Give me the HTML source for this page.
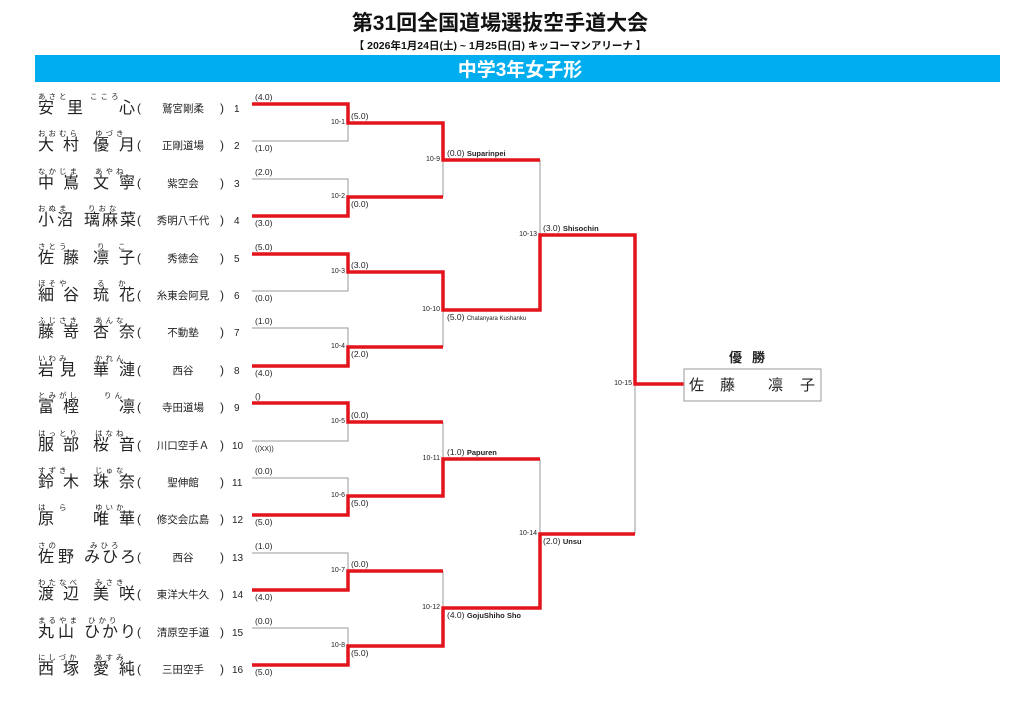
<!DOCTYPE html>
<html><head><meta charset="utf-8">
<style>
html,body{margin:0;padding:0;background:#fff;}
svg{display:block;}
text{font-family:"Liberation Sans","Noto Sans CJK JP",sans-serif;fill:#222;}
.k{font-size:16px;}
.f{font-size:7.5px;letter-spacing:3px;}
.s{font-size:10.5px;text-anchor:middle;}
.p{font-size:12px;}
.n{font-size:10px;}
.sc{font-size:8.5px;}
.id{font-size:7px;text-anchor:end;}
.r{fill:none;stroke:#e3141b;stroke-width:3.5;stroke-linejoin:miter;}
.g{fill:none;stroke:#9a9a9a;stroke-width:1;}
</style></head><body>
<svg width="1024" height="724" viewBox="0 0 1024 724" xmlns="http://www.w3.org/2000/svg">
<text x="500" y="30" text-anchor="middle" style="font-size:21px;font-weight:bold;fill:#111">第31回全国道場選抜空手道大会</text>
<text x="500" y="49" text-anchor="middle" style="font-size:10.5px;font-weight:bold;fill:#111">【 2026年1月24日(土) ~ 1月25日(日)  キッコーマンアリーナ 】</text>
<rect x="35" y="55" width="965" height="27" fill="#00aeef"/>
<text x="520" y="76" text-anchor="middle" style="font-size:19px;font-weight:bold;fill:#fff">中学3年女子形</text>

<!-- grey lines -->
<g class="g">
<polyline points="252,141 348,141 348,123"/>
<polyline points="252,179 348,179 348,197"/>
<polyline points="252,291 348,291 348,272"/>
<polyline points="252,328 348,328 348,347"/>
<polyline points="252,441 348,441 348,422"/>
<polyline points="252,478 348,478 348,496"/>
<polyline points="252,553 348,553 348,571"/>
<polyline points="252,628 348,628 348,646"/>
<line x1="443" y1="197" x2="443" y2="160"/>
<line x1="443" y1="347" x2="443" y2="310"/>
<line x1="443" y1="422" x2="443" y2="459"/>
<line x1="443" y1="571" x2="443" y2="608"/>
<line x1="540" y1="160" x2="540" y2="235"/>
<line x1="540" y1="459" x2="540" y2="534"/>
<line x1="635" y1="534" x2="635" y2="384"/>
</g>
<g class="r">
<polyline points="252,104 348,104 348,123 443,123 443,160 540,160"/>
<polyline points="252,216 348,216 348,197 443,197"/>
<polyline points="252,254 348,254 348,272 443,272 443,310 540,310 540,235 635,235 635,384 684,384"/>
<polyline points="252,366 348,366 348,347 443,347"/>
<polyline points="252,403 348,403 348,422 443,422"/>
<polyline points="252,515 348,515 348,496 443,496 443,459 540,459"/>
<polyline points="252,590 348,590 348,571 443,571"/>
<polyline points="252,665 348,665 348,646 443,646 443,608 540,608 540,534 635,534"/>
</g>

<!-- winner box -->
<text x="752" y="362" text-anchor="middle" style="font-size:13px;font-weight:bold;letter-spacing:10px">優勝</text>
<rect x="684" y="369" width="137" height="32" fill="none" stroke="#999" stroke-width="1"/>
<text x="689" y="390" style="font-size:15px">佐</text>
<text x="720" y="390" style="font-size:15px">藤</text>
<text x="768" y="390" style="font-size:15px">凛</text>
<text x="800" y="390" style="font-size:15px">子</text>

<!-- match ids -->
<g class="id">
<text x="345" y="124">10-1</text><text x="345" y="198">10-2</text><text x="345" y="273">10-3</text><text x="345" y="348">10-4</text>
<text x="345" y="423">10-5</text><text x="345" y="497">10-6</text><text x="345" y="572">10-7</text><text x="345" y="647">10-8</text>
<text x="440" y="161">10-9</text><text x="440" y="311">10-10</text><text x="440" y="460">10-11</text><text x="440" y="609">10-12</text>
<text x="537" y="236">10-13</text><text x="537" y="535">10-14</text><text x="632" y="385">10-15</text>
</g>

<!-- scores -->
<g class="sc">
<text x="255" y="100">(4.0)</text><text x="255" y="151">(1.0)</text>
<text x="255" y="175">(2.0)</text><text x="255" y="226">(3.0)</text>
<text x="255" y="250">(5.0)</text><text x="255" y="301">(0.0)</text>
<text x="255" y="324">(1.0)</text><text x="255" y="376">(4.0)</text>
<text x="255" y="399">()</text><text x="255" y="451" style="font-size:7px">((XX))</text>
<text x="255" y="474">(0.0)</text><text x="255" y="525">(5.0)</text>
<text x="255" y="549">(1.0)</text><text x="255" y="600">(4.0)</text>
<text x="255" y="624">(0.0)</text><text x="255" y="675">(5.0)</text>
<text x="351" y="119">(5.0)</text><text x="351" y="207">(0.0)</text>
<text x="351" y="268">(3.0)</text><text x="351" y="357">(2.0)</text>
<text x="351" y="418">(0.0)</text><text x="351" y="506">(5.0)</text>
<text x="351" y="567">(0.0)</text><text x="351" y="656">(5.0)</text>
<text x="447" y="156">(0.0) <tspan style="font-weight:bold;font-size:7.5px">Suparinpei</tspan></text>
<text x="447" y="320">(5.0) <tspan style="font-size:6px">Chatanyara Kushanku</tspan></text>
<text x="447" y="455">(1.0) <tspan style="font-weight:bold;font-size:7.5px">Papuren</tspan></text>
<text x="447" y="618">(4.0) <tspan style="font-weight:bold;font-size:7.5px">GojuShiho Sho</tspan></text>
<text x="543" y="231">(3.0) <tspan style="font-weight:bold;font-size:7.5px">Shisochin</tspan></text>
<text x="543" y="544">(2.0) <tspan style="font-weight:bold;font-size:7.5px">Unsu</tspan></text>
</g>

<!-- players -->
<g>
<!-- 1 -->
<text class="f" x="38" y="99">あさと</text><text class="f" x="90" y="99">こころ</text>
<text class="k" x="38" y="113">安</text><text class="k" x="67" y="113">里</text><text class="k" x="119" y="113">心</text>
<text class="p" x="137" y="112">(</text><text class="s" x="183" y="112">鷲宮剛柔</text><text class="p" x="220" y="112">)</text><text class="n" x="234" y="112">1</text>
<!-- 2 -->
<text class="f" x="38" y="136">おおむら</text><text class="f" x="95" y="136">ゆづき</text>
<text class="k" x="38" y="150">大</text><text class="k" x="63" y="150">村</text><text class="k" x="93" y="150">優</text><text class="k" x="119" y="150">月</text>
<text class="p" x="137" y="149">(</text><text class="s" x="183" y="149">正剛道場</text><text class="p" x="220" y="149">)</text><text class="n" x="234" y="149">2</text>
<!-- 3 -->
<text class="f" x="38" y="174">なかじま</text><text class="f" x="95" y="174">あやね</text>
<text class="k" x="38" y="188">中</text><text class="k" x="63" y="188">嶌</text><text class="k" x="93" y="188">文</text><text class="k" x="119" y="188">寧</text>
<text class="p" x="137" y="187">(</text><text class="s" x="183" y="187">紫空会</text><text class="p" x="220" y="187">)</text><text class="n" x="234" y="187">3</text>
<!-- 4 -->
<text class="f" x="38" y="211">おぬま</text><text class="f" x="88" y="211">りおな</text>
<text class="k" x="38" y="225">小</text><text class="k" x="57" y="225">沼</text><text class="k" x="84" y="225">璃</text><text class="k" x="102" y="225">麻</text><text class="k" x="120" y="225">菜</text>
<text class="p" x="137" y="224">(</text><text class="s" x="183" y="224">秀明八千代</text><text class="p" x="220" y="224">)</text><text class="n" x="234" y="224">4</text>
<!-- 5 -->
<text class="f" x="38" y="249">さとう</text><text class="f" x="97" y="249">り　こ</text>
<text class="k" x="38" y="263">佐</text><text class="k" x="63" y="263">藤</text><text class="k" x="93" y="263">凛</text><text class="k" x="119" y="263">子</text>
<text class="p" x="137" y="262">(</text><text class="s" x="183" y="262">秀徳会</text><text class="p" x="220" y="262">)</text><text class="n" x="234" y="262">5</text>
<!-- 6 -->
<text class="f" x="38" y="286">ほそや</text><text class="f" x="97" y="286">る　か</text>
<text class="k" x="38" y="300">細</text><text class="k" x="63" y="300">谷</text><text class="k" x="93" y="300">琉</text><text class="k" x="119" y="300">花</text>
<text class="p" x="137" y="299">(</text><text class="s" x="183" y="299">糸東会阿見</text><text class="p" x="220" y="299">)</text><text class="n" x="234" y="299">6</text>
<!-- 7 -->
<text class="f" x="38" y="323">ふじさき</text><text class="f" x="95" y="323">あんな</text>
<text class="k" x="38" y="337">藤</text><text class="k" x="63" y="337">嵜</text><text class="k" x="93" y="337">杏</text><text class="k" x="119" y="337">奈</text>
<text class="p" x="137" y="336">(</text><text class="s" x="183" y="336">不動塾</text><text class="p" x="220" y="336">)</text><text class="n" x="234" y="336">7</text>
<!-- 8 -->
<text class="f" x="38" y="361">いわみ</text><text class="f" x="95" y="361">かれん</text>
<text class="k" x="38" y="375">岩</text><text class="k" x="60" y="375">見</text><text class="k" x="93" y="375">華</text><text class="k" x="119" y="375">漣</text>
<text class="p" x="137" y="374">(</text><text class="s" x="183" y="374">西谷</text><text class="p" x="220" y="374">)</text><text class="n" x="234" y="374">8</text>
<!-- 9 -->
<text class="f" x="38" y="398">とみがし</text><text class="f" x="104" y="398">りん</text>
<text class="k" x="38" y="412">富</text><text class="k" x="63" y="412">樫</text><text class="k" x="119" y="412">凛</text>
<text class="p" x="137" y="411">(</text><text class="s" x="183" y="411">寺田道場</text><text class="p" x="220" y="411">)</text><text class="n" x="234" y="411">9</text>
<!-- 10 -->
<text class="f" x="38" y="436">はっとり</text><text class="f" x="95" y="436">はなね</text>
<text class="k" x="38" y="450">服</text><text class="k" x="63" y="450">部</text><text class="k" x="93" y="450">桜</text><text class="k" x="119" y="450">音</text>
<text class="p" x="137" y="449">(</text><text class="s" x="183" y="449">川口空手Ａ</text><text class="p" x="220" y="449">)</text><text class="n" x="232" y="449">10</text>
<!-- 11 -->
<text class="f" x="38" y="473">すずき</text><text class="f" x="95" y="473">じゅな</text>
<text class="k" x="38" y="487">鈴</text><text class="k" x="63" y="487">木</text><text class="k" x="93" y="487">珠</text><text class="k" x="119" y="487">奈</text>
<text class="p" x="137" y="486">(</text><text class="s" x="183" y="486">聖伸館</text><text class="p" x="220" y="486">)</text><text class="n" x="232" y="486">11</text>
<!-- 12 -->
<text class="f" x="38" y="510">は　ら</text><text class="f" x="95" y="510">ゆいか</text>
<text class="k" x="38" y="524">原</text><text class="k" x="93" y="524">唯</text><text class="k" x="119" y="524">華</text>
<text class="p" x="137" y="523">(</text><text class="s" x="183" y="523">修交会広島</text><text class="p" x="220" y="523">)</text><text class="n" x="232" y="523">12</text>
<!-- 13 -->
<text class="f" x="38" y="548">さの</text><text class="f" x="90" y="548">みひろ</text>
<text class="k" x="38" y="562">佐</text><text class="k" x="58" y="562">野</text><text class="k" x="84" y="562">み</text><text class="k" x="102" y="562">ひ</text><text class="k" x="120" y="562">ろ</text>
<text class="p" x="137" y="561">(</text><text class="s" x="183" y="561">西谷</text><text class="p" x="220" y="561">)</text><text class="n" x="232" y="561">13</text>
<!-- 14 -->
<text class="f" x="38" y="585">わたなべ</text><text class="f" x="95" y="585">みさき</text>
<text class="k" x="38" y="599">渡</text><text class="k" x="63" y="599">辺</text><text class="k" x="93" y="599">美</text><text class="k" x="119" y="599">咲</text>
<text class="p" x="137" y="598">(</text><text class="s" x="183" y="598">東洋大牛久</text><text class="p" x="220" y="598">)</text><text class="n" x="232" y="598">14</text>
<!-- 15 -->
<text class="f" x="38" y="623">まるやま</text><text class="f" x="88" y="623">ひかり</text>
<text class="k" x="38" y="637">丸</text><text class="k" x="58" y="637">山</text><text class="k" x="84" y="637">ひ</text><text class="k" x="102" y="637">か</text><text class="k" x="120" y="637">り</text>
<text class="p" x="137" y="636">(</text><text class="s" x="183" y="636">清原空手道</text><text class="p" x="220" y="636">)</text><text class="n" x="232" y="636">15</text>
<!-- 16 -->
<text class="f" x="38" y="660">にしづか</text><text class="f" x="95" y="660">あすみ</text>
<text class="k" x="38" y="674">西</text><text class="k" x="63" y="674">塚</text><text class="k" x="93" y="674">愛</text><text class="k" x="119" y="674">純</text>
<text class="p" x="137" y="673">(</text><text class="s" x="183" y="673">三田空手</text><text class="p" x="220" y="673">)</text><text class="n" x="232" y="673">16</text>
</g>
</svg>
</body></html>
